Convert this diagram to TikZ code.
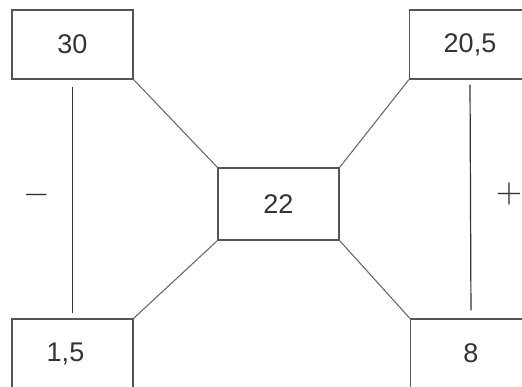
\documentclass[tikz,border=0pt]{standalone}
\usepackage{fontspec}
\setmainfont{Liberation Sans}
\usepackage{xcolor}
\usepackage{graphicx}
\usetikzlibrary{positioning}
\definecolor{boxgray}{HTML}{555555}
\definecolor{linegray}{HTML}{6A6A6A}
\definecolor{textgray}{HTML}{333333}

\begin{document}
\begin{tikzpicture}[x=1pt, y=1pt,
  box/.style={rectangle, draw=boxgray, line width=1.4pt, fill=white,
              minimum width=121pt, minimum height=69pt, inner sep=0pt,
              font=\fontsize{27}{31}\selectfont, text=textgray},
  link/.style={draw=linegray, line width=1.1pt},
  bar/.style={draw=textgray, line width=1.2pt},
  sign/.style={inner sep=0pt, text=textgray}
]
\useasboundingbox (0,0) rectangle (522,386);

% Outer boxes
\node[box] (n30) at (72.5,341.5) {30};
\node[box] (n205) at (470,341.5) {20,5};
\node[box] (n15) at (72.5,32.5) {\hspace*{-14pt}1,5};
\node[box] (n8) at (471,32.5) {8};

% Centre
\node[box, minimum height=72pt] (n22) at (278.5,182) {22};

% Links to the centre
\draw[link] (n30.south east) -- (n22.north west);
\draw[link] (n205.south west) -- (n22.north east);
\draw[link] (n22.south west) -- (n15.north east);
\draw[link] (n22.south east) -- (n8.north west);

% Side bars
\draw[bar, shorten <=7pt, shorten >=5pt] (n30.south) -- (n15.north);
\draw[bar, shorten <=5pt, shorten >=8pt] (n205.south) -- (n8.north);
\node[sign] (minus) at (37,191) {\scalebox{3.4}{$-$}};
\node[sign] (plus) at (509,192) {\scalebox{3.4}{$+$}};

\end{tikzpicture}
\end{document}
